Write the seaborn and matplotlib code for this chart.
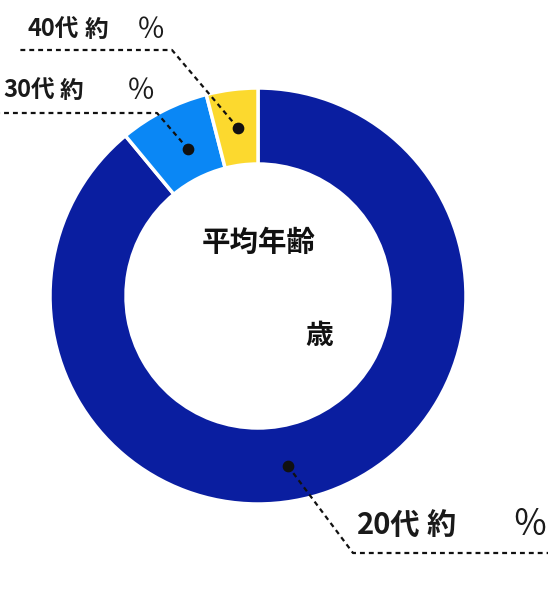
import numpy as np
import matplotlib
matplotlib.use("Agg")
import matplotlib.pyplot as plt
import seaborn as sns

# data
categories = ["20代", "30代", "40代"]
shares = [89, 7, 4]
colors = ["#0A1EA0", "#0A87F5", "#FCD92E"]
center_title = "平均年齢"
center_unit = "歳"

sns.set_theme(style="white")
plt.rcParams['font.family'] = ['Noto Sans CJK JP', 'DejaVu Sans']

W, H = 548, 610
fig = plt.figure(figsize=(W / 100, H / 100), dpi=100)
ax = fig.add_axes([0, 0, 1, 1])
ax.set_xlim(0, W)
ax.set_ylim(0, H)
ax.set_aspect('equal')
ax.axis('off')

def py(y):
    return H - y

cx, cy = 258, py(296)
R, width = 208, 76
wedges, _ = ax.pie(shares, colors=colors, startangle=90, counterclock=False,
                   center=(cx, cy), radius=R,
                   wedgeprops=dict(width=width, edgecolor='white', linewidth=2.5))
ax.set_xlim(0, W)
ax.set_ylim(0, H)

# label leader lines (pixel layout)
txt = '#1a1a1a'
leaders = {
    "40代": [(238, 128), (172, 50), (20, 50)],
    "30代": [(188, 149), (157, 113), (0, 113)],
    "20代": [(288, 466), (353, 553), (548, 553)],
}
for cat, pts in leaders.items():
    xs = [p[0] for p in pts]
    ys = [py(p[1]) for p in pts]
    ax.plot(xs, ys, color='#111111', lw=1.6, ls=(0, (2.2, 1.8)), solid_capstyle='butt')
    ax.scatter([xs[0]], [ys[0]], s=55, color='#111111', zorder=5)

# (cat x, 約 x, ％ x, y, fontsize)
labels_pos = {
    "40代": (28, 85, 137, 30, 17),
    "30代": (3, 60, 127, 91, 17),
    "20代": (357, 427, 512, 525, 21),
}
for cat, (lx, yx, px_, ly, fs) in labels_pos.items():
    for s, x in ((cat, lx), ("約", yx)):
        ax.text(x, py(ly), s, fontsize=fs, color=txt, ha='left', va='center',
                fontweight='bold')
    ax.text(px_, py(ly), "％", fontsize=fs * 1.2, color=txt, ha='left', va='center',
            fontweight='normal')

ax.text(259, py(243), center_title, fontsize=20.5, fontweight='bold', color='#111111',
        ha='center', va='center')
ax.text(319, py(336), center_unit, fontsize=20, fontweight='bold', color='#111111',
        ha='center', va='center')

fig.savefig("out.png", dpi=100)
